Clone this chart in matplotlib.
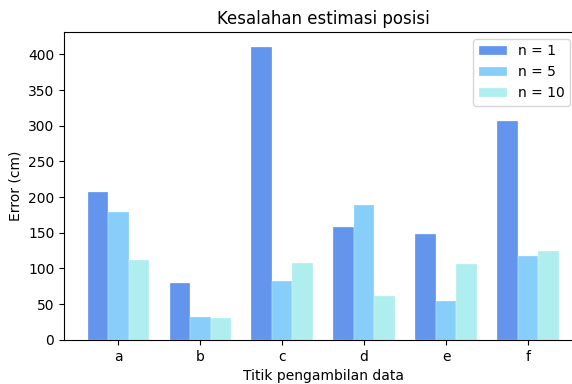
import numpy as np
import matplotlib
matplotlib.use("Agg")
import matplotlib.pyplot as plt

# titik pengambilan data dan error tiap n
labels = ['a', 'b', 'c', 'd', 'e', 'f']
err_n1 = [207, 79, 411, 158, 148, 307]
err_n5 = [179, 32, 83, 189, 55, 118]
err_n10 = [112, 30, 108, 61, 106, 124]

x = np.arange(len(labels))
w = 0.25

fig = plt.figure(figsize=(5.72, 3.84), dpi=100)
ax = fig.add_axes([0.112, 0.115, 0.906, 0.802])

ax.bar(x - w, err_n1, w, color='cornflowerblue', label='n = 1', edgecolor='white', linewidth=0.2)
ax.bar(x, err_n5, w, color='lightskyblue', label='n = 5', edgecolor='white', linewidth=0.2)
ax.bar(x + w, err_n10, w, color='paleturquoise', label='n = 10', edgecolor='white', linewidth=0.2)

ax.set_xticks(x)
ax.set_xticklabels(labels)
ax.set_title('Kesalahan estimasi posisi')
ax.set_xlabel('Titik pengambilan data')
ax.set_ylabel('Error (cm)')
# gambar asli terpotong di kanan, spine kanan tidak kelihatan
ax.spines['right'].set_visible(False)
ax.legend(loc='upper right', bbox_to_anchor=(577 / 572, 0.917), bbox_transform=fig.transFigure)

fig.savefig('out.png', dpi=100)
